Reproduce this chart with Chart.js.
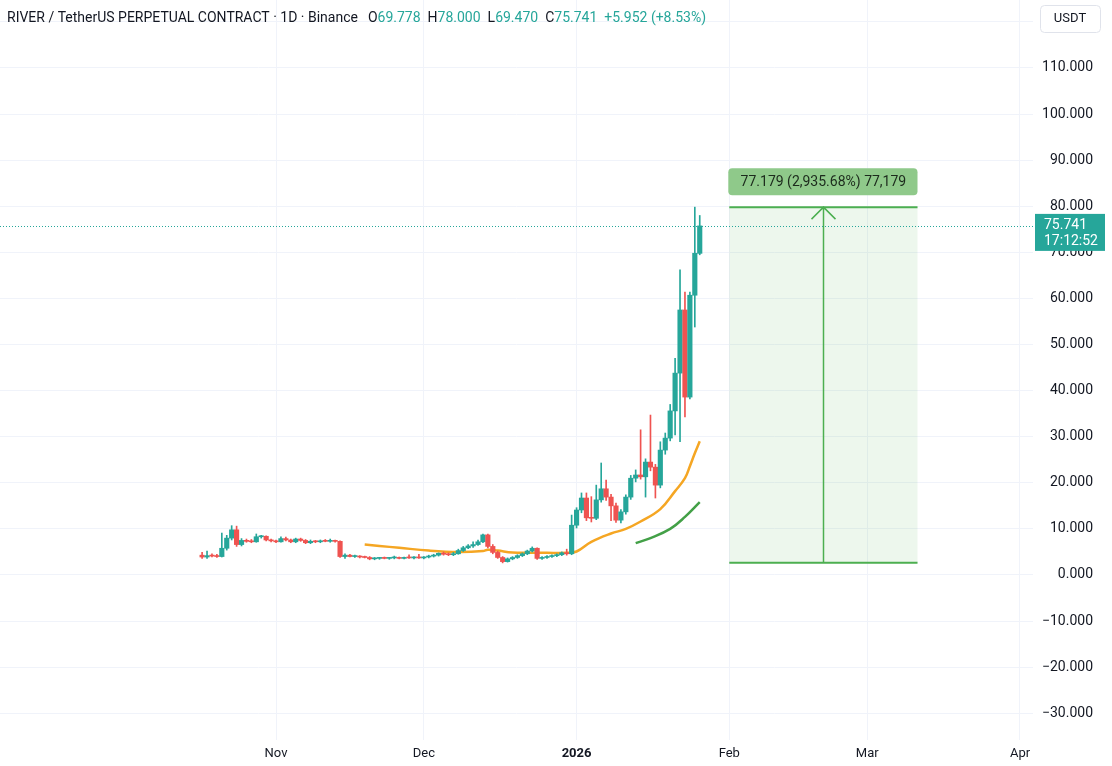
<!DOCTYPE html>
<html>
<head>
<meta charset="utf-8">
<script src="https://cdn.jsdelivr.net/npm/chart.js@4.4.1/dist/chart.umd.min.js"></script>
<style>
  html, body { margin: 0; padding: 0; background: #fff; }
  #wrap { position: relative; width: 1112px; height: 766px; }
</style>
</head>
<body>
<div id="wrap"><canvas id="chart" width="1112" height="766"></canvas></div>
<script>
// --- data (days counted from 1 Oct 2025 = 0) ---
const firstCandleDay = 16;   // 17 Oct 2025
const opens = [
  4.3, 3.9, 4.2, 4.1, 4.0, 5.8, 8.0, 9.8, 6.6, 7.5, 7.3, 7.2, 8.3, 8.4, 7.6, 7.4, 7.2, 7.9, 7.6, 7.2,
  7.8, 7.5, 7.0, 7.3, 7.2, 7.4, 7.3, 7.4, 7.3, 4.0, 4.3, 4.0, 4.1, 3.9, 3.8, 3.5, 3.6, 3.7, 3.6, 3.7,
  3.8, 3.6, 3.8, 3.7, 3.8, 3.7, 3.9, 4.1, 4.3, 4.7, 4.5, 4.4, 4.6, 5.3, 5.9, 6.3, 6.6, 7.2, 8.7, 6.2,
  4.9, 3.8, 2.9, 3.5, 3.8, 4.2, 4.6, 5.2, 5.8, 3.6, 3.8, 4.0, 4.2, 4.4, 4.8, 4.6, 10.8, 14.1, 16.7, 12.4,
  12.3, 16.3, 18.7, 16.9, 15.0, 11.9, 13.7, 16.9, 21.0, 21.7, 21.3, 24.5, 23.4, 19.5, 27.1, 29.7, 35.6, 43.8, 57.5, 38.6,
  60.7, 69.778
];
const highs = [
  4.9, 5.2, 4.6, 4.5, 9.1, 8.6, 10.7, 10.6, 7.9, 7.8, 7.7, 8.9, 8.6, 8.5, 7.8, 7.6, 8.3, 8.2, 7.8, 8.0,
  8.0, 7.7, 7.6, 7.5, 7.6, 7.7, 7.8, 7.6, 7.4, 4.6, 4.5, 4.3, 4.2, 4.1, 4.0, 3.8, 3.8, 3.9, 3.8, 4.1,
  3.9, 3.9, 4.4, 4.0, 4.5, 4.0, 4.3, 4.5, 4.8, 5.0, 4.8, 4.9, 5.6, 6.2, 6.6, 7.2, 7.6, 8.9, 8.9, 6.6,
  5.2, 4.0, 3.7, 4.0, 4.4, 4.8, 5.4, 6.1, 5.9, 4.0, 4.2, 4.4, 4.6, 5.0, 5.6, 13.0, 14.6, 17.8, 17.8, 17.0,
  19.5, 24.3, 20.6, 17.5, 15.6, 14.2, 17.4, 21.6, 22.8, 31.5, 25.2, 34.7, 24.0, 28.9, 30.8, 37.0, 47.0, 66.2, 61.4, 61.4,
  79.808, 78.0
];
const lows = [
  3.6, 3.6, 3.9, 3.8, 3.9, 5.4, 7.6, 6.2, 6.3, 7.1, 7.0, 7.1, 8.0, 7.4, 7.2, 7.0, 7.1, 7.4, 7.0, 7.0,
  7.3, 6.8, 6.8, 7.0, 7.0, 7.2, 7.1, 7.1, 3.8, 3.6, 3.9, 3.8, 3.7, 3.7, 3.3, 3.3, 3.4, 3.5, 3.4, 3.5,
  3.5, 3.5, 3.6, 3.5, 3.6, 3.5, 3.7, 3.9, 4.1, 4.3, 4.2, 4.2, 4.5, 5.1, 5.7, 6.0, 6.4, 7.0, 5.9, 4.6,
  3.6, 2.629, 2.8, 3.3, 3.6, 4.0, 4.4, 5.0, 3.4, 3.4, 3.6, 3.8, 4.0, 4.2, 4.3, 4.4, 10.2, 13.5, 11.8, 11.5,
  12.0, 15.8, 16.2, 11.8, 11.4, 11.3, 13.2, 16.4, 20.2, 20.8, 16.9, 22.6, 16.7, 18.9, 26.2, 29.1, 30.4, 28.9, 34.3, 38.2,
  53.8, 69.47
];
const closes = [
  3.9, 4.2, 4.1, 4.0, 5.8, 8.0, 9.8, 6.6, 7.5, 7.3, 7.2, 8.3, 8.4, 7.6, 7.4, 7.2, 7.9, 7.6, 7.2, 7.8,
  7.5, 7.0, 7.3, 7.2, 7.4, 7.3, 7.4, 7.3, 4.0, 4.3, 4.0, 4.1, 3.9, 3.8, 3.5, 3.6, 3.7, 3.6, 3.7, 3.8,
  3.6, 3.8, 3.7, 3.8, 3.7, 3.9, 4.1, 4.3, 4.7, 4.5, 4.4, 4.6, 5.3, 5.9, 6.3, 6.6, 7.2, 8.7, 6.2, 4.9,
  3.8, 2.9, 3.5, 3.8, 4.2, 4.6, 5.2, 5.8, 3.6, 3.8, 4.0, 4.2, 4.4, 4.8, 4.6, 10.8, 14.1, 16.7, 12.4, 12.3,
  16.3, 18.7, 16.9, 15.0, 11.9, 13.7, 16.9, 21.0, 21.7, 21.3, 24.5, 23.4, 19.5, 27.1, 29.7, 35.6, 43.8, 57.5, 38.6, 60.7,
  69.8, 75.741
];
const prevClose = 69.789;

// moving averages at a few days
const maOrangeDays = [49, 52, 56, 62, 68, 73, 74, 76, 79, 86, 90, 92, 95, 99, 102, 105, 109, 112, 114, 115, 116, 117];
const maOrangeVals = [6.6, 6.3, 5.9, 5.3, 5.0, 5.2, 5.5, 5.3, 4.9, 4.8, 4.8, 5.1, 7.2, 9.0, 10.0, 11.6, 14.3, 18.2, 21.0, 23.6, 26.4, 29.0];
const maGreenDays = [104, 107, 111, 114, 117];
const maGreenVals = [6.9, 8.0, 10.0, 12.6, 15.8];

// axes
const monthTickDays = [31, 61, 92, 123, 151, 182];
const monthLabels = ['Nov', 'Dec', '2026', 'Feb', 'Mar', 'Apr'];
const yearTickDay = 92;
const yTickValues = [-30, -20, -10, 0, 10, 20, 30, 40, 50, 60, 70, 80, 90, 100, 110, 120];

// measure tool
const measureDays = [123, 161.2];
const measureLow = 2.629;
const measureHigh = 79.808;
const lastPrice = 75.741;
const countdown = '17:12:52';

const UP = '#26a69a';
const DOWN = '#ef5350';
const GRID = '#f0f3fa';
const TXT = '#131722';
const FONT = 'Roboto, "Noto Sans", sans-serif';

var bodyData = [], wickData = [], candleColors = [];
for (var i = 0; i < closes.length; i++) {
    var d = firstCandleDay + i;
    bodyData.push({ x: d, y: [opens[i], closes[i]] });
    wickData.push({ x: d, y: [lows[i], highs[i]] });
    candleColors.push(closes[i] >= opens[i] ? UP : DOWN);
}

function fmtPrice(v) {
    var s = Math.abs(v).toFixed(3);
    return (v < 0 ? '\u2212' : '') + s;
}

function roundBox(ctx, x, y, w, h, r) {
    ctx.beginPath();
    ctx.moveTo(x + r, y);
    ctx.arcTo(x + w, y, x + w, y + h, r);
    ctx.arcTo(x + w, y + h, x, y + h, r);
    ctx.arcTo(x, y + h, x, y, r);
    ctx.arcTo(x, y, x + w, y, r);
    ctx.closePath();
}

const overlay = {
    id: 'overlay',
    beforeDatasetsDraw(chart) {
        const ctx = chart.ctx, xs = chart.scales.x, ys = chart.scales.y;
        const x0 = xs.getPixelForValue(measureDays[0]), x1 = xs.getPixelForValue(measureDays[1]);
        const yTop = ys.getPixelForValue(measureHigh), yBot = ys.getPixelForValue(measureLow);
        ctx.save();
        ctx.fillStyle = 'rgba(76,175,80,0.1)';
        ctx.fillRect(x0, yTop, x1 - x0, yBot - yTop);
        ctx.strokeStyle = '#4caf50';
        ctx.lineWidth = 2;
        ctx.beginPath();
        ctx.moveTo(x0, yTop); ctx.lineTo(x1, yTop);
        ctx.moveTo(x0, yBot); ctx.lineTo(x1, yBot);
        ctx.stroke();
        // arrow
        const xm = Math.round((x0 + x1) / 2) + 0.5;
        ctx.lineWidth = 1.5;
        ctx.beginPath();
        ctx.moveTo(xm, yBot); ctx.lineTo(xm, yTop);
        ctx.moveTo(xm - 12, yTop + 12); ctx.lineTo(xm, yTop); ctx.lineTo(xm + 12, yTop + 12);
        ctx.stroke();
        // label
        const diff = measureHigh - measureLow;
        const pct = diff / measureLow * 100;
        const txt = diff.toFixed(3) + ' (' + pct.toLocaleString('en-US', { minimumFractionDigits: 2, maximumFractionDigits: 2 }) + '%) 77,179';
        ctx.fillStyle = '#8fc98a';
        roundBox(ctx, x0 - 1, yTop - 39, x1 - x0 + 1, 27, 4);
        ctx.fill();
        ctx.fillStyle = '#1c2a1c';
        ctx.font = '14px ' + FONT;
        ctx.textAlign = 'center';
        ctx.textBaseline = 'middle';
        ctx.fillText(txt, (x0 + x1) / 2, yTop - 25);
        ctx.restore();
    },
    afterDatasetsDraw(chart) {
        const ctx = chart.ctx, ys = chart.scales.y, area = chart.chartArea;
        const yp = Math.round(ys.getPixelForValue(lastPrice)) + 0.5;
        ctx.save();
        ctx.strokeStyle = UP;
        ctx.lineWidth = 1;
        ctx.setLineDash([1, 2]);
        ctx.beginPath();
        ctx.moveTo(area.left, yp); ctx.lineTo(area.right, yp);
        ctx.stroke();
        ctx.restore();
    },
    afterDraw(chart) {
        const ctx = chart.ctx, ys = chart.scales.y, area = chart.chartArea;
        ctx.save();
        // last price label on the axis
        const yp = ys.getPixelForValue(lastPrice);
        ctx.fillStyle = UP;
        ctx.fillRect(area.right + 2, yp - 12, 70, 37);
        ctx.fillStyle = '#fff';
        ctx.font = '14px ' + FONT;
        ctx.textAlign = 'left';
        ctx.textBaseline = 'middle';
        ctx.fillText(lastPrice.toFixed(3), area.right + 11, yp);
        ctx.fillText(countdown, area.right + 11, yp + 16);

        // currency button
        ctx.fillStyle = '#fff';
        roundBox(ctx, 1040.5, 5.5, 60, 27, 4);
        ctx.fill();
        ctx.strokeStyle = '#e0e3eb';
        ctx.stroke();
        ctx.fillStyle = TXT;
        ctx.textAlign = 'center';
        ctx.font = '13px ' + FONT;
        ctx.fillText('USDT', 1070, 19);

        // legend line
        ctx.font = '14px ' + FONT;
        ctx.textAlign = 'left';
        let x = 7;
        const y = 18;
        ctx.fillStyle = TXT;
        const head = 'RIVER / TetherUS PERPETUAL CONTRACT \u00b7 1D \u00b7 Binance';
        ctx.fillText(head, x, y);
        x += ctx.measureText(head).width + 10;
        const n = closes.length - 1;
        const parts = [['O', opens[n].toFixed(3)], ['H', highs[n].toFixed(3)],
                       ['L', lows[n].toFixed(3)], ['C', closes[n].toFixed(3)]];
        parts.forEach(p => {
            ctx.fillStyle = TXT;
            ctx.fillText(p[0], x, y);
            x += ctx.measureText(p[0]).width;
            ctx.fillStyle = UP;
            ctx.fillText(p[1], x, y);
            x += ctx.measureText(p[1]).width + 7;
        });
        const chg = closes[n] - prevClose;
        ctx.fillStyle = UP;
        ctx.fillText('+' + chg.toFixed(3) + ' (+' + (chg / prevClose * 100).toFixed(2) + '%)', x, y);
        ctx.restore();
    }
};

new Chart(document.getElementById('chart'), {
    data: {
        datasets: [
            {
                type: 'bar', data: bodyData, order: 1, grouped: false,
                backgroundColor: candleColors, borderWidth: 0, barThickness: 4.5, minBarLength: 1
            },
            {
                type: 'bar', data: wickData, order: 2, grouped: false,
                backgroundColor: candleColors, borderWidth: 0, barThickness: 1, minBarLength: 1
            },
            {
                type: 'line', order: 3, borderColor: '#f5a623', borderWidth: 2.5, pointRadius: 0, tension: 0.4,
                data: maOrangeDays.map((d, i) => ({ x: d, y: maOrangeVals[i] }))
            },
            {
                type: 'line', order: 3, borderColor: '#43a047', borderWidth: 2.5, pointRadius: 0, tension: 0.4,
                data: maGreenDays.map((d, i) => ({ x: d, y: maGreenVals[i] }))
            }
        ]
    },
    options: {
        responsive: false,
        animation: false,
        layout: { padding: { left: 0, top: 0, bottom: 0, right: 19 } },
        plugins: { legend: { display: false }, tooltip: { enabled: false } },
        scales: {
            x: {
                type: 'linear', min: -25.02, max: 184.64, offset: false,
                grid: { color: GRID, drawTicks: false, offset: false },
                border: { display: false },
                afterBuildTicks: s => { s.ticks = monthTickDays.map(v => ({ value: v })); },
                afterFit: s => { s.height = 26; s.paddingLeft = 0; s.paddingRight = 0; },
                ticks: {
                    autoSkip: false, maxRotation: 0, padding: 6, color: TXT,
                    font: ctx => ({ family: FONT, size: 13, weight: (ctx.tick && ctx.tick.value === yearTickDay) ? 'bold' : 'normal' }),
                    callback: (v, i) => monthLabels[i]
                }
            },
            y: {
                type: 'linear', position: 'right', min: -35.8, max: 124.75,
                grid: { color: GRID, drawTicks: false },
                border: { display: false },
                afterBuildTicks: s => { s.ticks = yTickValues.map(v => ({ value: v })); },
                afterFit: s => { s.width = 60; s.paddingTop = 0; s.paddingBottom = 0; },
                ticks: {
                    crossAlign: 'far', padding: 8, color: TXT,
                    font: { family: FONT, size: 14 },
                    callback: v => v >= 120 ? '' : fmtPrice(v)
                }
            }
        }
    },
    plugins: [overlay]
});
</script>
</body>
</html>
